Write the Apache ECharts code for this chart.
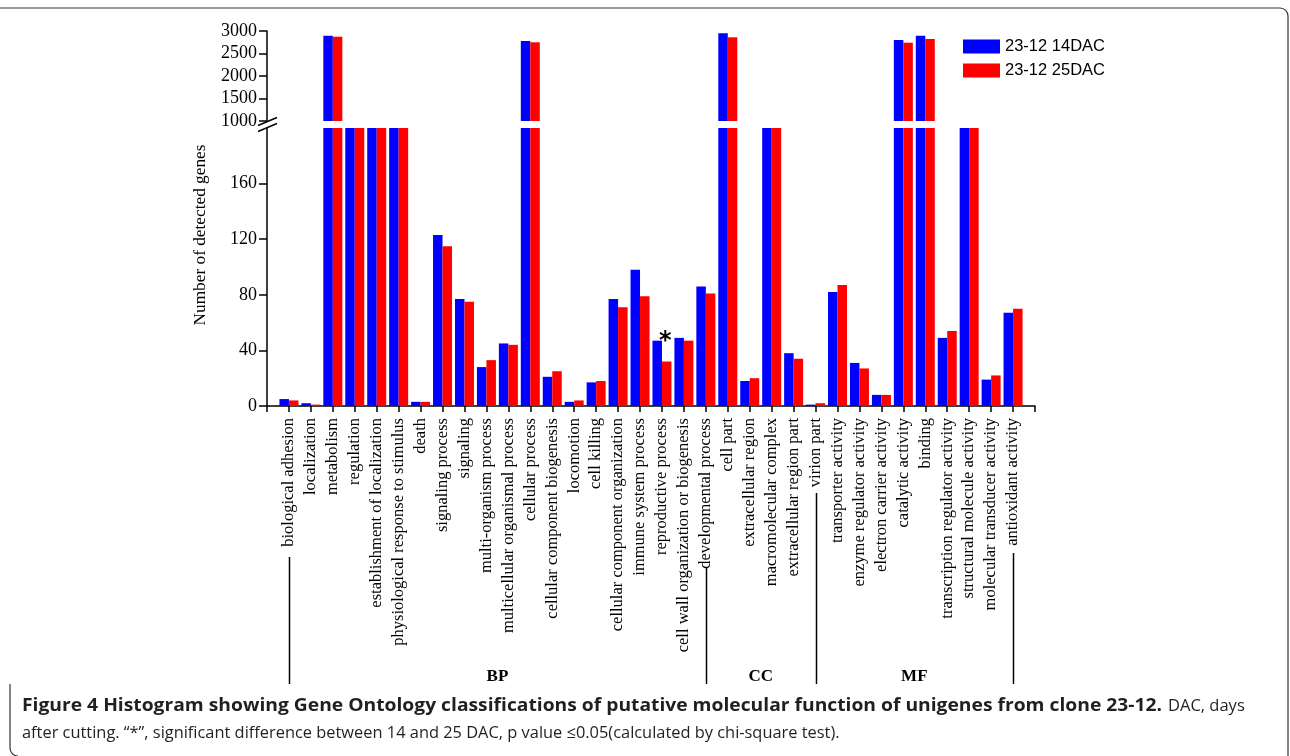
<!DOCTYPE html>
<html><head><meta charset="utf-8">
<script src="https://cdn.jsdelivr.net/npm/echarts@6/dist/echarts.min.js"></script>
<style>html,body{margin:0;padding:0;background:#fff}#c{width:1290px;height:756px}</style>
</head><body><div id="c"></div>
<script>
// ---------- DATA ----------
const categories = [
  'biological adhesion','localization','metabolism','regulation','establishment of localization',
  'physiological response to stimulus','death','signaling process','signaling','multi-organism process',
  'multicellular organismal process','cellular process','cellular component biogenesis','locomotion',
  'cell killing','cellular component organization','immune system process','reproductive process',
  'cell wall organization or biogenesis','developmental process',
  'cell part','extracellular region','macromolecular complex','extracellular region part','virion part',
  'transporter activity','enzyme regulator activity','electron carrier activity','catalytic activity',
  'binding','transcription regulator activity','structural molecule activity',
  'molecular transducer activity','antioxidant activity'
];
const dac14 = [5,2,2896,820,560,470,3,123,77,28,45,2778,21,3,17,77,98,47,49,86,2949,18,720,38,1,82,31,8,2800,2896,49,390,19,67];
const dac25 = [4,1,2873,815,555,465,3,115,75,33,44,2749,25,4,18,71,79,32,47,81,2860,20,715,34,2,87,27,8,2740,2822,54,385,22,70];
const seriesNames = ['23-12 14DAC','23-12 25DAC'];
const significant = ['reproductive process'];
const lowerTicks = [0,40,80,120,160];
const upperRange = [1000, 3000, 500];
const lowerRange = [0, 200];
const groups = [
  {name:'BP', from:'biological adhesion', to:'developmental process'},
  {name:'CC', from:'developmental process', to:'virion part'},
  {name:'MF', from:'virion part', to:'antioxidant activity'}
];
const yTitle = 'Number of detected genes';
const captionBold = 'Figure 4 Histogram showing Gene Ontology classifications of putative molecular function of unigenes from clone 23-12.';
const captionRest1 = 'DAC, days';
const captionLine2 = 'after cutting. \u201c*\u201d, significant difference between 14 and 25 DAC, p value \u22640.05(calculated by chi-square test).';

// ---------- LAYOUT ----------
const L = 267, AXR = 1035;
const serif = 'Liberation Serif';
const xCats = ['', ...categories, ''];
const pad = a => ['-', ...a, '-'];
const upperData = a => pad(a.map(v => v >= upperRange[0] ? v : '-'));
const blue = '#0000ff', red = '#ff0000';
const lineBlack = {color:'#000', width:1.5};

const lowerBlue = pad(dac14).map((v, i) => {
  if (i > 0 && significant.indexOf(xCats[i]) >= 0) {
    return {value: v, label: {show: true, formatter: '*', position: 'top', offset: [8, 18],
      fontSize: 24, fontWeight: 'bold', color: '#000', fontFamily: 'DejaVu Sans'}};
  }
  return v;
});

const chart = echarts.init(document.getElementById('c'), null, {renderer: 'canvas'});
const barW = 9.5;
chart.setOption({
  animation: false,
  grid: [
    {left: L, right: 1290 - AXR, top: 31, height: 90},
    {left: L, right: 1290 - AXR, top: 128, height: 278}
  ],
  legend: {
    orient: 'vertical', left: 963, top: 38, padding: 0, itemWidth: 37, itemHeight: 14, itemGap: 7,
    icon: 'rect', data: seriesNames,
    textStyle: {fontFamily: 'Liberation Sans', fontSize: 16.5, color: '#000', lineHeight: 14}
  },
  xAxis: [
    {gridIndex: 0, type: 'category', data: xCats, boundaryGap: false, show: false},
    {gridIndex: 1, type: 'category', data: xCats, boundaryGap: false,
      axisLine: {lineStyle: lineBlack},
      axisTick: {show: true, interval: 0, length: 6, lineStyle: lineBlack},
      axisLabel: {interval: 0, rotate: 90, margin: 12, fontFamily: serif, fontSize: 16.5, color: '#000'},
      splitLine: {show: false}}
  ],
  yAxis: [
    {gridIndex: 0, type: 'value', min: upperRange[0], max: upperRange[1], interval: upperRange[2],
      axisLine: {show: true, lineStyle: lineBlack},
      axisTick: {show: true, length: 8, lineStyle: lineBlack},
      axisLabel: {fontFamily: serif, fontSize: 18, color: '#000', margin: 10, formatter: v => String(v)},
      splitLine: {show: false}},
    {gridIndex: 1, type: 'value', min: lowerRange[0], max: lowerRange[1],
      axisLine: {show: true, lineStyle: lineBlack},
      axisTick: {show: true, length: 8, lineStyle: lineBlack, customValues: lowerTicks},
      axisLabel: {fontFamily: serif, fontSize: 18, color: '#000', margin: 10, customValues: lowerTicks,
        formatter: v => String(v)},
      splitLine: {show: false}}
  ],
  series: [
    {name: seriesNames[0], type: 'bar', xAxisIndex: 1, yAxisIndex: 1, data: lowerBlue,
      barWidth: barW, barGap: '0%', itemStyle: {color: blue}},
    {name: seriesNames[1], type: 'bar', xAxisIndex: 1, yAxisIndex: 1, data: pad(dac25),
      barWidth: barW, barGap: '0%', itemStyle: {color: red}},
    {name: seriesNames[0], type: 'bar', xAxisIndex: 0, yAxisIndex: 0, data: upperData(dac14),
      barWidth: barW, barGap: '0%', itemStyle: {color: blue}},
    {name: seriesNames[1], type: 'bar', xAxisIndex: 0, yAxisIndex: 0, data: upperData(dac25),
      barWidth: barW, barGap: '0%', itemStyle: {color: red}}
  ]
});

// ---------- DECORATIONS ----------
const px = name => chart.convertToPixel({xAxisIndex: 1}, name);
const lineStart = {'biological adhesion': 557, 'developmental process': 567, 'virion part': 493, 'antioxidant activity': 553};
const bracketBottom = 684, groupLabelY = 677;
const g = [];
Object.keys(lineStart).forEach(k => {
  const x = Math.round(px(k)) + 0.5;
  g.push({type: 'line', shape: {x1: x, y1: lineStart[k], x2: x, y2: bracketBottom},
    style: {stroke: '#000', lineWidth: 1.5}});
});
groups.forEach(gr => {
  g.push({type: 'text', x: (px(gr.from) + px(gr.to)) / 2, y: groupLabelY,
    style: {text: gr.name, fontFamily: serif, fontWeight: 'bold', fontSize: 17, fill: '#000',
      align: 'center', verticalAlign: 'middle'}});
});
// axis break mark
const yBreakTop = chart.convertToPixel({yAxisIndex: 0}, upperRange[0]);
const yBreakBot = chart.convertToPixel({yAxisIndex: 1}, lowerRange[1]);
const ym = (yBreakTop + yBreakBot) / 2;
g.push({type: 'polygon', shape: {points: [[L - 9, ym + 6], [L + 10, ym - 2], [L + 10, ym - 7], [L - 9, ym + 1]]},
  style: {fill: '#fff'}});
g.push({type: 'line', shape: {x1: L - 9, y1: ym + 7, x2: L + 10, y2: ym - 1}, style: {stroke: '#000', lineWidth: 1.6}});
g.push({type: 'line', shape: {x1: L - 9, y1: ym + 1, x2: L + 10, y2: ym - 7}, style: {stroke: '#000', lineWidth: 1.6}});
// y title
g.push({type: 'text', x: 200, y: 235, rotation: Math.PI / 2,
  style: {text: yTitle, fontFamily: serif, fontSize: 17.3, fill: '#000', align: 'center', verticalAlign: 'middle'}});
// caption (bold part widened to mimic the original typeface)
const capX = 22, boldSize = 17.5, boldTargetW = 1140;
const ctx = document.createElement('canvas').getContext('2d');
ctx.font = 'bold ' + boldSize + 'px "Open Sans"';
const boldW = ctx.measureText(captionBold).width;
const sx = boldTargetW / boldW;
g.push({type: 'text', x: capX, y: 706, scaleX: sx, originX: 0,
  style: {text: captionBold, fontFamily: 'Open Sans', fontWeight: 'bold', fontSize: boldSize, fill: '#231f20',
    verticalAlign: 'middle'}});
g.push({type: 'text', x: capX + boldTargetW + 6, y: 706,
  style: {text: captionRest1, fontFamily: 'Open Sans', fontSize: 16.5, fill: '#231f20', verticalAlign: 'middle'}});
g.push({type: 'text', x: capX, y: 733,
  style: {text: captionLine2, fontFamily: 'Open Sans', fontSize: 16.4, fill: '#231f20', verticalAlign: 'middle'}});
// frame
const fr = {stroke: '#333', lineWidth: 1.2, fill: 'none'};
g.push({type: 'polyline', shape: {points: [[0, 8], [1280, 8]]}, style: fr});
g.push({type: 'arc', shape: {cx: 1280, cy: 16, r: 8, startAngle: -Math.PI / 2, endAngle: 0}, style: fr});
g.push({type: 'polyline', shape: {points: [[1288, 16], [1288, 760]]}, style: fr});
g.push({type: 'polyline', shape: {points: [[10, 684], [10, 748]]}, style: fr});
g.push({type: 'arc', shape: {cx: 18, cy: 748, r: 8, startAngle: Math.PI / 2, endAngle: Math.PI}, style: fr});
chart.setOption({graphic: g});
</script></body></html>
